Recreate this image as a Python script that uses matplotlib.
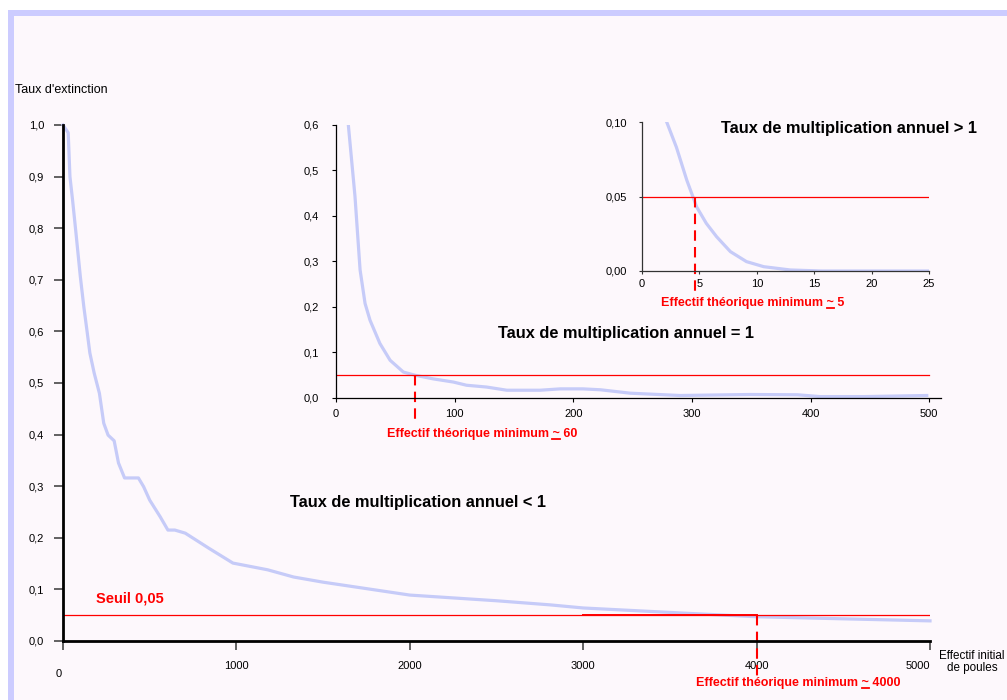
import matplotlib.pyplot as plt
from matplotlib.lines import Line2D
from matplotlib.patches import Rectangle
from matplotlib.ticker import FuncFormatter

plt.rcParams['font.family'] = ['Liberation Sans', 'DejaVu Sans']

# Taux de multiplication annuel < 1
effectif_lt1 = [0, 30, 40, 55, 75, 100, 120, 140, 155, 180, 210, 235, 260, 295, 320, 355,
                435, 465, 500, 560, 605, 645, 705, 840, 980, 1180, 1330, 1500, 2000, 2500,
                2810, 3000, 3580, 4000, 4500, 5000]
extinction_lt1 = [1.0, 0.985, 0.90, 0.855, 0.79, 0.706, 0.648, 0.597, 0.558, 0.519, 0.48, 0.422,
                  0.399, 0.388, 0.345, 0.316, 0.316, 0.299, 0.273, 0.241, 0.215, 0.215, 0.209,
                  0.18, 0.151, 0.138, 0.124, 0.114, 0.089, 0.078, 0.070, 0.064, 0.054, 0.047,
                  0.043, 0.039]

# Taux de multiplication annuel = 1
effectif_eq1 = [10.4, 16, 20.3, 24.5, 28.7, 37, 45.6, 56.8, 66.7, 82, 99, 110, 127, 144, 172,
                189, 208, 223, 248, 290, 349, 389, 408, 445, 498]
extinction_eq1 = [0.60, 0.443, 0.281, 0.207, 0.170, 0.119, 0.082, 0.056, 0.049, 0.041, 0.034,
                  0.027, 0.023, 0.016, 0.016, 0.019, 0.019, 0.017, 0.0095, 0.0044, 0.0066,
                  0.006, 0.002, 0.002, 0.0044]

# Taux de multiplication annuel > 1
effectif_gt1 = [2.15, 3.0, 3.9, 4.76, 5.6, 6.5, 7.7, 9.1, 10.6, 12.9, 15.6, 25]
extinction_gt1 = [0.100, 0.083, 0.061, 0.043, 0.032, 0.023, 0.013, 0.0063, 0.0029, 0.0007, 0.0, 0.0]

seuil = 0.05
minimum_lt1 = 4000
minimum_eq1 = 67
minimum_gt1 = 4.6

curve_color = '#C6CBF8'
W, H = 1007, 700


def comma(fmt):
    return FuncFormatter(lambda v, p: fmt.format(v).replace('.', ','))


fig = plt.figure(figsize=(W / 100, H / 100), dpi=100)
fig.patch.set_facecolor('white')
fig.add_artist(Rectangle((8 / W, 0), 1, 1 - 10 / H, transform=fig.transFigure,
                         facecolor='#CCCCFF', edgecolor='none', zorder=-2))
fig.add_artist(Rectangle((14 / W, 0), 1, 1 - 16 / H, transform=fig.transFigure,
                         facecolor='#FDF8FC', edgecolor='none', zorder=-1))
min_texts = []

# ---- main chart
ax = fig.add_axes([63 / W, 59 / H, 867 / W, 516 / H])
ax.patch.set_alpha(0)
ax.plot(effectif_lt1, extinction_lt1, color=curve_color, lw=2.3, solid_joinstyle='round', clip_on=False)
ax.axhline(seuil, color='red', lw=0.9)
ax.plot([3000, minimum_lt1], [seuil, seuil], color='red', lw=1.4)
ax.plot([minimum_lt1, minimum_lt1], [seuil, -0.072], color='red', lw=1.5, ls=(0, (5, 3)), clip_on=False)
ax.set_xlim(0, 5000)
ax.set_ylim(0, 1)
for s in ['top', 'right']:
    ax.spines[s].set_visible(False)
for s in ['left', 'bottom']:
    ax.spines[s].set_linewidth(2)
ax.set_xticks(range(0, 5001, 1000))
ax.set_xticklabels(['', '1000', '2000', '3000', '4000', '5000'])
ax.set_yticks([i / 10 for i in range(11)])
ax.yaxis.set_major_formatter(comma('{:.1f}'))
ax.tick_params(direction='out', length=6.5, width=1.3, color='#555555', labelsize=8)
ax.tick_params(axis='x', pad=8)
ax.tick_params(axis='y', pad=7)
ax.get_xticklabels()[-1].set_ha('right')
ax.annotate('0', xy=(0, 0), xytext=(-3, -24), textcoords='offset points', fontsize=8,
            ha='center', va='center')
min_texts.append(ax.annotate('Effectif théorique minimum ~ 4000', xy=(minimum_lt1, 0), xytext=(30, -30),
                             textcoords='offset points', fontsize=9, fontweight='bold', color='red',
                             ha='center', va='center'))
ax.annotate('Seuil 0,05', xy=(0, seuil), xytext=(24, 12), textcoords='offset points',
            fontsize=10.5, fontweight='bold', color='red', ha='left', va='center')

# ---- inset: taux = 1
ax1 = fig.add_axes([336 / W, 302.5 / H, 605 / W, 272.5 / H])
ax1.patch.set_alpha(0)
ax1.plot(effectif_eq1, extinction_eq1, color=curve_color, lw=2.3, solid_joinstyle='round')
ax1.plot([0, 500], [seuil, seuil], color='red', lw=0.9)
ax1.plot([minimum_eq1, minimum_eq1], [seuil, -0.05], color='red', lw=1.5, ls=(0, (5, 3)), clip_on=False)
ax1.set_xlim(0, 510)
ax1.set_ylim(0, 0.6)
for s in ['top', 'right']:
    ax1.spines[s].set_visible(False)
for s in ['left', 'bottom']:
    ax1.spines[s].set_linewidth(0.9)
ax1.set_xticks(range(0, 501, 100))
ax1.set_yticks([i / 10 for i in range(7)])
ax1.yaxis.set_major_formatter(comma('{:.1f}'))
ax1.tick_params(direction='out', length=3, width=0.8, labelsize=8)
ax1.tick_params(axis='x', pad=5)
ax1.tick_params(axis='y', pad=9)
min_texts.append(ax1.annotate('Effectif théorique minimum ~ 60', xy=(minimum_eq1, 0), xytext=(48, -26),
                              textcoords='offset points', fontsize=9, fontweight='bold', color='red',
                              ha='center', va='center'))

# ---- inset: taux > 1
ax2 = fig.add_axes([642 / W, 429 / H, 287 / W, 149 / H])
ax2.patch.set_alpha(0)
ax2.plot(effectif_gt1, extinction_gt1, color=curve_color, lw=2.3, solid_joinstyle='round')
ax2.plot([0, 25], [seuil, seuil], color='red', lw=0.9)
ax2.plot([minimum_gt1, minimum_gt1], [seuil, -0.016], color='red', lw=1.5, ls=(0, (5, 3)), clip_on=False)
ax2.set_xlim(0, 25)
ax2.set_ylim(0, 0.1)
for s in ['top', 'right']:
    ax2.spines[s].set_visible(False)
for s in ['left', 'bottom']:
    ax2.spines[s].set_linewidth(0.9)
    ax2.spines[s].set_color('#333333')
ax2.set_xticks(range(0, 26, 5))
ax2.set_yticks([0, 0.05, 0.10])
ax2.yaxis.set_major_formatter(comma('{:.2f}'))
ax2.tick_params(direction='out', length=2.5, width=0.8, labelsize=8, color='#333333')
ax2.tick_params(axis='x', pad=3)
ax2.tick_params(axis='y', pad=8)
min_texts.append(ax2.annotate('Effectif théorique minimum ~ 5', xy=(minimum_gt1, 0), xytext=(42, -23),
                              textcoords='offset points', fontsize=9, fontweight='bold', color='red',
                              ha='center', va='center'))

# ---- titles / labels
fig.text(15 / W, 1 - 90 / H, "Taux d'extinction", fontsize=9, va='center')
fig.text(972 / W, 1 - 662 / H, 'Effectif initial\nde poules', fontsize=8.4, ha='center',
         va='center', linespacing=0.9)
fig.text(290 / W, 1 - 502 / H, 'Taux de multiplication annuel < 1', fontsize=11.8,
         fontweight='bold', va='center')
fig.text(626 / W, 1 - 333 / H, 'Taux de multiplication annuel = 1', fontsize=11.8,
         fontweight='bold', ha='center', va='center')
fig.text(849 / W, 1 - 129 / H, 'Taux de multiplication annuel > 1', fontsize=11.8,
         fontweight='bold', ha='center', va='center')

# underline the "~" of each minimum label
fig.canvas.draw()
renderer = fig.canvas.get_renderer()
for t in min_texts:
    s = t.get_text()
    prop = t.get_fontproperties()
    bb = t.get_window_extent(renderer)
    w_pre, _, _ = renderer.get_text_width_height_descent(s[:s.index('~') + 1], prop, ismath=False)
    w_til, _, _ = renderer.get_text_width_height_descent('~', prop, ismath=False)
    _, _, desc = renderer.get_text_width_height_descent(s, prop, ismath=False)
    y = bb.y0 + desc - 2
    x1 = bb.x0 + w_pre
    fig.add_artist(Line2D([(x1 - w_til) / W, x1 / W], [y / H, y / H], transform=fig.transFigure,
                          color='red', lw=1.3))

fig.savefig('out.png', dpi=100)
